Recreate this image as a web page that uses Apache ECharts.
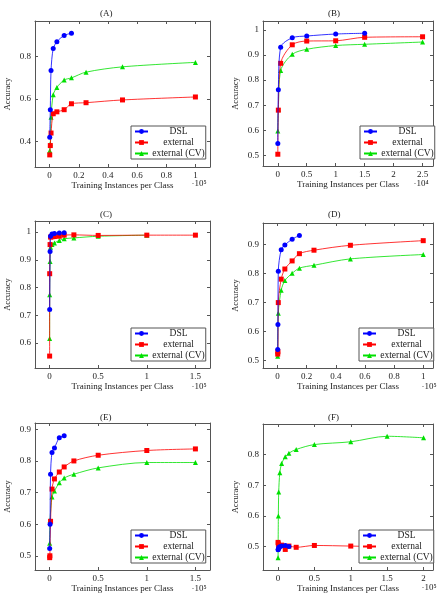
<!DOCTYPE html>
<html>
<head>
<meta charset="utf-8">
<script src="https://cdn.jsdelivr.net/npm/echarts@6/dist/echarts.min.js"></script>
<style>
  html, body { margin: 0; padding: 0; background: #fff; }
  #chart { width: 444px; height: 604px; }
</style>
</head>
<body>
<div id="chart"></div>
<script>
// x values are "training instances per class", in units of 10^exp
// panel A
const aDsl = [[0.001, 0.42], [0.005, 0.55], [0.01, 0.735], [0.025, 0.838], [0.05, 0.87], [0.1, 0.9], [0.15, 0.91]];
const aExt = [[0.001, 0.337], [0.005, 0.381], [0.01, 0.44], [0.025, 0.531], [0.05, 0.54], [0.1, 0.55], [0.15, 0.578], [0.25, 0.583], [0.5, 0.596], [1, 0.61]];
const aCv = [[0.001, 0.357], [0.005, 0.39], [0.01, 0.515], [0.025, 0.62], [0.05, 0.655], [0.1, 0.69], [0.15, 0.70], [0.25, 0.727], [0.5, 0.752], [1, 0.773]];
// panel B
const bDsl = [[0.001, 0.547], [0.01, 0.761], [0.05, 0.931], [0.25, 0.969], [0.5, 0.976], [1, 0.984], [1.5, 0.987]];
const bExt = [[0.001, 0.504], [0.01, 0.68], [0.05, 0.867], [0.25, 0.941], [0.5, 0.956], [1, 0.957], [1.5, 0.971], [2.5, 0.973]];
const bCv = [[0.001, 0.597], [0.01, 0.684], [0.05, 0.838], [0.25, 0.903], [0.5, 0.923], [1, 0.938], [1.5, 0.943], [2.5, 0.952]];
// panel C
const cDsl = [[0.001, 0.721], [0.005, 0.93], [0.01, 0.985], [0.025, 0.993], [0.05, 0.995], [0.1, 0.997], [0.15, 0.998]];
const cExt = [[0.0005, 0.553], [0.001, 0.85], [0.005, 0.955], [0.01, 0.982], [0.025, 0.983], [0.05, 0.984], [0.1, 0.985], [0.15, 0.989], [0.25, 0.99], [0.5, 0.988], [1, 0.989], [1.5, 0.989]];
const cCv = [[0.0005, 0.616], [0.001, 0.774], [0.005, 0.894], [0.01, 0.945], [0.025, 0.955], [0.05, 0.961], [0.1, 0.97], [0.15, 0.976], [0.25, 0.979], [0.5, 0.985], [1, 0.989]];
// panel D
const dDsl = [[0.001, 0.538], [0.0025, 0.624], [0.005, 0.808], [0.025, 0.883], [0.05, 0.899], [0.1, 0.919], [0.15, 0.932]];
const dExt = [[0.001, 0.522], [0.0025, 0.53], [0.005, 0.7], [0.025, 0.781], [0.05, 0.816], [0.1, 0.844], [0.15, 0.869], [0.25, 0.881], [0.5, 0.898], [1, 0.914]];
const dCv = [[0.001, 0.515], [0.005, 0.663], [0.025, 0.743], [0.05, 0.776], [0.1, 0.801], [0.15, 0.819], [0.25, 0.829], [0.5, 0.851], [1, 0.866]];
// panel E
const eDsl = [[0.001, 0.523], [0.005, 0.6], [0.01, 0.758], [0.025, 0.827], [0.05, 0.841], [0.1, 0.873], [0.15, 0.88]];
const eExt = [[0.001, 0.494], [0.003, 0.5], [0.01, 0.609], [0.025, 0.711], [0.05, 0.743], [0.1, 0.765], [0.15, 0.781], [0.25, 0.8], [0.5, 0.818], [1, 0.833], [1.5, 0.838]];
const eCv = [[0.001, 0.54], [0.005, 0.612], [0.025, 0.686], [0.05, 0.705], [0.1, 0.731], [0.15, 0.746], [0.25, 0.758], [0.5, 0.778], [1, 0.795], [1.5, 0.795]];
// panel F
const fDsl = [[0.001, 0.49], [0.005, 0.492], [0.01, 0.497], [0.025, 0.5], [0.05, 0.502], [0.1, 0.504], [0.15, 0.501]];
const fExt = [[0.001, 0.514], [0.005, 0.509], [0.01, 0.498], [0.05, 0.505], [0.1, 0.491], [0.15, 0.502], [0.25, 0.498], [0.5, 0.504], [1, 0.502], [1.5, 0.5], [2, 0.5]];
const fCv = [[0.001, 0.464], [0.005, 0.6], [0.01, 0.678], [0.025, 0.741], [0.05, 0.771], [0.1, 0.793], [0.15, 0.805], [0.25, 0.817], [0.5, 0.833], [1, 0.842], [1.5, 0.86], [2, 0.855]];

// tick labels
const xTicksA = [0, 0.2, 0.4, 0.6, 0.8, 1];
const xTicksB = [0, 0.5, 1, 1.5, 2, 2.5];
const xTicksC = [0, 0.5, 1, 1.5];
const xTicksF = [0, 0.5, 1, 1.5, 2];
const yTicksA = [0.4, 0.6, 0.8];
const yTicksB = [0.5, 0.6, 0.7, 0.8, 0.9, 1];
const yTicksC = [0.6, 0.7, 0.8, 0.9, 1];
const yTicksD = [0.5, 0.6, 0.7, 0.8, 0.9];
const yTicksF = [0.5, 0.6, 0.7, 0.8];

const names = ['DSL', 'external', 'external (CV)'];
const FONT = '"Liberation Serif", "DejaVu Serif", serif';
const FRAME = '#555';
const TXT = '#222';

// layout of each panel (pixels)
const panels = [
  { title: '(A)', data: [aDsl, aExt, aCv], xt: xTicksA, yt: yTicksA, xr: [-0.1, 1.1], yr: [0.28, 0.968], exp: '·10⁵',
    box: [35, 21, 210, 167], leg: [131, 126], tx: 102, ty: 10, ex: [199, 184] },
  { title: '(B)', data: [bDsl, bExt, bCv], xt: xTicksB, yt: yTicksB, xr: [-0.255, 2.68], yr: [0.457, 1.036], exp: '·10⁴',
    box: [263, 21, 433, 166], leg: [360, 126], tx: 330, ty: 10, ex: [421, 184] },
  { title: '(C)', data: [cDsl, cExt, cCv], xt: xTicksC, yt: yTicksC, xr: [-0.15, 1.65], yr: [0.51, 1.04], exp: '·10⁵',
    box: [35, 221, 210, 368], leg: [131, 328], tx: 102, ty: 211.5, ex: [199, 387] },
  { title: '(D)', data: [dDsl, dExt, dCv], xt: xTicksA, yt: yTicksD, xr: [-0.1, 1.067], yr: [0.474, 0.975], exp: '·10⁵',
    box: [263, 223, 433, 368], leg: [359, 328], tx: 330, ty: 211, ex: [429, 387] },
  { title: '(E)', data: [eDsl, eExt, eCv], xt: xTicksC, yt: yTicksD, xr: [-0.15, 1.65], yr: [0.455, 0.92], exp: '·10⁵',
    box: [35, 423, 210, 570], leg: [131, 530], tx: 102, ty: 414, ex: [199, 589] },
  { title: '(F)', data: [fDsl, fExt, fCv], xt: xTicksF, yt: yTicksF, xr: [-0.206, 2.13], yr: [0.424, 0.9], exp: '·10⁵',
    box: [263, 424, 433, 570], leg: [359, 530], tx: 330, ty: 414, ex: [429, 588] }
];

const styles = [
  { color: '#0000ff', symbol: 'circle', size: 5 },
  { color: '#ff0000', symbol: 'rect', size: 5 },
  { color: '#00e000', symbol: 'triangle', size: 5 }
];

const grid = [], xAxis = [], yAxis = [], series = [], legend = [], title = [], graphic = [];

panels.forEach((p, i) => {
  const [l, t, r, b] = p.box;
  grid.push({ left: l, top: t, width: r - l, height: b - t, containLabel: false });

  const frameAxis = (ticks) => ({
    axisLine: { show: true, onZero: false, lineStyle: { color: FRAME, width: 1 } },
    axisTick: { show: true, inside: true, length: 3, customValues: ticks, lineStyle: { color: FRAME, width: 1 } },
    splitLine: { show: false }
  });

  xAxis.push(Object.assign({
    type: 'value', gridIndex: i, position: 'bottom', min: p.xr[0], max: p.xr[1],
    axisLabel: { customValues: p.xt, margin: 4, color: TXT, fontFamily: FONT, fontSize: 9 },
    name: 'Training Instances per Class', nameLocation: 'middle', nameGap: 13,
    nameTextStyle: { color: TXT, fontFamily: FONT, fontSize: 9 }
  }, frameAxis(p.xt)));
  xAxis.push(Object.assign({
    type: 'value', gridIndex: i, position: 'top', min: p.xr[0], max: p.xr[1],
    axisLabel: { show: false }
  }, frameAxis(p.xt)));

  yAxis.push(Object.assign({
    type: 'value', gridIndex: i, position: 'left', min: p.yr[0], max: p.yr[1],
    axisLabel: { customValues: p.yt, margin: 4, color: TXT, fontFamily: FONT, fontSize: 9 },
    name: 'Accuracy', nameLocation: 'middle', nameGap: 23,
    nameTextStyle: { color: TXT, fontFamily: FONT, fontSize: 8.5 }
  }, frameAxis(p.yt)));
  yAxis.push(Object.assign({
    type: 'value', gridIndex: i, position: 'right', min: p.yr[0], max: p.yr[1],
    axisLabel: { show: false }
  }, frameAxis(p.yt)));

  p.data.forEach((d, k) => {
    const s = styles[k];
    series.push({
      type: 'line', name: names[k], xAxisIndex: 2 * i, yAxisIndex: 2 * i,
      data: d, smooth: 0.3, symbol: s.symbol, symbolSize: s.size, showSymbol: true,
      lineStyle: { color: s.color, width: 0.8 },
      itemStyle: { color: s.color },
      z: 3 - k
    });
  });

  legend.push({
    data: names, orient: 'vertical', left: p.leg[0], top: p.leg[1],
    itemWidth: 13, itemHeight: 6, itemGap: 0, padding: [0, 1, 0, 3],
    borderColor: FRAME, borderWidth: 1, borderRadius: 0, backgroundColor: '#fff',
    selectedMode: false,
    formatter: n => '{t|' + n + '}',
    textStyle: {
      color: TXT, fontFamily: FONT, fontSize: 9.5, lineHeight: 11,
      rich: { t: { width: 51, align: 'center', fontFamily: FONT, fontSize: 9.5, lineHeight: 11, color: TXT } }
    }
  });

  title.push({
    text: p.title, left: p.tx, top: p.ty - 6, textAlign: 'left',
    textStyle: { color: TXT, fontFamily: FONT, fontSize: 9, fontWeight: 'normal' }
  });

  graphic.push({
    type: 'text', x: p.ex[0], y: p.ex[1],
    style: { text: p.exp, fill: TXT, font: '9px ' + FONT, align: 'center', verticalAlign: 'middle' }
  });
});

const chart = echarts.init(document.getElementById('chart'), null, { renderer: 'canvas' });
chart.setOption({
  animation: false,
  backgroundColor: '#fff',
  grid, xAxis, yAxis, series, legend, graphic,
  title: title.map(t => Object.assign(t, { left: t.left - 7 }))
});
</script>
</body>
</html>
